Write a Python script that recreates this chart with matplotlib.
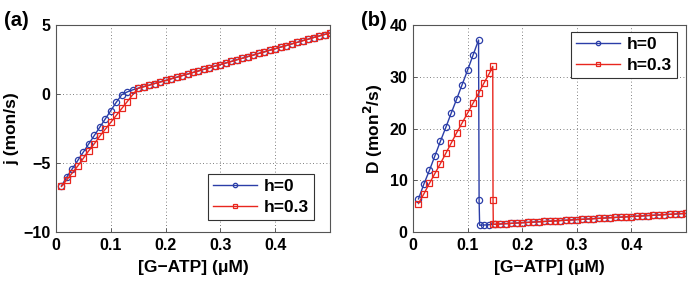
import matplotlib.pyplot as plt
import numpy as np

plt.rcParams['font.family'] = ['Liberation Sans', 'DejaVu Sans']
plt.rcParams['font.weight'] = 'bold'

# panel (a): flux j vs [G-ATP]
x_a = np.round(np.arange(0.01, 0.505, 0.01), 2)
j_h0_low = [-6.65, -6.0, -5.4, -4.8, -4.2, -3.6, -3.0, -2.4, -1.8, -1.2,
            -0.6, -0.05, 0.15, 0.3]
j_h03_low = [-6.7, -6.2, -5.7, -5.2, -4.65, -4.1, -3.6, -3.05, -2.55, -2.05,
             -1.55, -1.05, -0.55, -0.05]
j_high = [0.42, 0.53, 0.64, 0.76, 0.87, 0.98, 1.10, 1.21, 1.33, 1.44,
          1.56, 1.67, 1.79, 1.90, 2.02, 2.13, 2.25, 2.36, 2.48, 2.59,
          2.71, 2.82, 2.94, 3.05, 3.17, 3.28, 3.40, 3.51, 3.63, 3.74,
          3.86, 3.97, 4.09, 4.20, 4.31, 4.42]
j_h0 = j_h0_low + j_high
j_h03 = j_h03_low + j_high

# panel (b): diffusion D vs [G-ATP]
x_high = x_a[14:]
D_high = [1.50, 1.56, 1.62, 1.68, 1.74, 1.80, 1.86, 1.92, 1.98, 2.04,
          2.10, 2.16, 2.22, 2.28, 2.34, 2.40, 2.46, 2.52, 2.58, 2.64,
          2.70, 2.76, 2.82, 2.88, 2.94, 3.00, 3.06, 3.12, 3.18, 3.24,
          3.30, 3.36, 3.42, 3.48, 3.54, 3.60]
x_b_h0 = [0.01, 0.02, 0.03, 0.04, 0.05, 0.06, 0.07, 0.08, 0.09, 0.10,
          0.11, 0.12, 0.121, 0.122, 0.13, 0.14] + list(x_high)
D_h0 = [6.4, 9.3, 11.9, 14.7, 17.5, 20.2, 23.0, 25.7, 28.5, 31.3,
        34.2, 37.1, 6.1, 1.3, 1.36, 1.42] + D_high
x_b_h03 = [0.01, 0.02, 0.03, 0.04, 0.05, 0.06, 0.07, 0.08, 0.09, 0.10,
           0.11, 0.12, 0.13, 0.14, 0.146, 0.1465, 0.147] + list(x_high)
D_h03 = [5.5, 7.4, 9.4, 11.3, 13.2, 15.2, 17.2, 19.2, 21.1, 23.0,
         24.9, 26.8, 28.8, 30.7, 32.0, 6.2, 1.48] + D_high

azul = '#2b3ea8'
verm = '#e8261e'

fig = plt.figure(figsize=(6.93, 2.84), dpi=100)
ax1 = fig.add_axes([0.0808, 0.183, 0.3954, 0.729])
ax2 = fig.add_axes([0.596, 0.183, 0.394, 0.729])


def estilo(ax):
    ax.grid(True, linestyle=(0, (1, 3)), color='#555555', linewidth=0.6)
    ax.tick_params(direction='in', length=3, width=0.6, labelsize=11.5,
                   color='#444444', pad=4)
    for s in ax.spines.values():
        s.set_color('#555555')
        s.set_linewidth(0.8)
    ax.set_xlim(0, 0.5)
    ax.set_xticks([0, 0.1, 0.2, 0.3, 0.4])
    ax.set_xticklabels(['0', '0.1', '0.2', '0.3', '0.4'])
    ax.set_xlabel('[G\u2212ATP] (\u03bcM)', fontsize=12.5, fontweight='bold',
                  labelpad=5)


def legenda(ax, canto):
    leg = ax.legend(loc='upper right', bbox_to_anchor=canto, fontsize=12.5,
                    markerscale=0.7, handlelength=2.5, fancybox=False,
                    edgecolor='#333333', framealpha=1, borderpad=0.3,
                    labelspacing=0.3, handletextpad=0.4, borderaxespad=0,
                    numpoints=1)
    leg.get_frame().set_linewidth(0.8)


ax1.plot(x_a, j_h0, '-o', color=azul, mfc='none', ms=4.5, mew=0.9, lw=1,
         label='h=0')
ax1.plot(x_a, j_h03, '-s', color=verm, mfc='none', ms=4, mew=0.9, lw=1,
         label='h=0.3')
estilo(ax1)
ax1.set_ylim(-10, 5)
ax1.set_yticks([-10, -5, 0, 5])
ax1.set_yticklabels(['\u221210', '\u22125', '0', '5'])
ax1.set_ylabel('j (mon/s)', fontsize=12.5, fontweight='bold', labelpad=3)
legenda(ax1, (0.942, 0.28))
ax1.text(-0.19, 1.02, '(a)', transform=ax1.transAxes, fontsize=14.5,
         fontweight='bold', ha='left', va='center')

ax2.plot(x_b_h0, D_h0, '-o', color=azul, mfc='none', ms=4.5, mew=0.9, lw=1,
         label='h=0')
ax2.plot(x_b_h03, D_h03, '-s', color=verm, mfc='none', ms=4, mew=0.9, lw=1,
         label='h=0.3')
estilo(ax2)
ax2.set_ylim(0, 40)
ax2.set_yticks([0, 10, 20, 30, 40])
ax2.set_ylabel('D (mon$^\\mathbf{2}$/s)', fontsize=12.5, fontweight='bold',
               labelpad=3)
legenda(ax2, (0.967, 0.966))
ax2.text(-0.19, 1.02, '(b)', transform=ax2.transAxes, fontsize=14.5,
         fontweight='bold', ha='left', va='center')

fig.savefig('out.png', dpi=100)
